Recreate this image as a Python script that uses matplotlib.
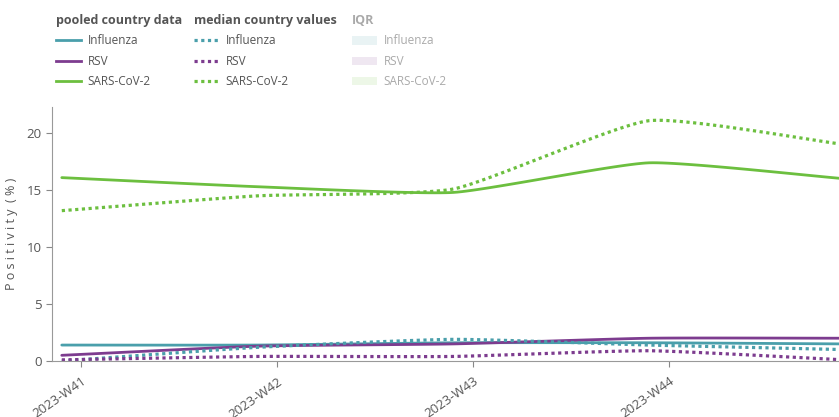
import numpy as np
import matplotlib
matplotlib.use("Agg")
import matplotlib.pyplot as plt
from matplotlib.lines import Line2D
from matplotlib.patches import Patch

# --- Data ---
weeks = ["2023-W41", "2023-W42", "2023-W43", "2023-W44", "2023-W45"]
pooled_influenza = [1.4, 1.4, 1.6, 1.6, 1.5]
pooled_rsv = [0.5, 1.3, 1.5, 2.0, 2.0]
pooled_sars = [16.1, 15.3, 14.8, 17.4, 16.0]
median_influenza = [0.0, 1.2, 1.9, 1.4, 1.0]
median_rsv = [0.1, 0.4, 0.4, 0.9, 0.1]
median_sars = [13.2, 14.5, 15.1, 21.1, 19.0]

C_FLU = "#4a9fab"
C_RSV = "#7d3c8f"
C_SARS = "#6cbf3f"
GREY = "#555555"

plt.rcParams['font.family'] = ['Open Sans', 'DejaVu Sans']


def smooth(xs, ys, n=30, k=0.5):
    # hermite spline with softened tangents (gentle rounding like plotly's spline)
    xs = np.asarray(xs, float)
    ys = np.asarray(ys, float)
    px = np.concatenate([[2 * xs[0] - xs[1]], xs, [2 * xs[-1] - xs[-2]]])
    py = np.concatenate([[2 * ys[0] - ys[1]], ys, [2 * ys[-1] - ys[-2]]])
    t = np.linspace(0, 1, n)
    h00 = 2 * t ** 3 - 3 * t ** 2 + 1
    h10 = t ** 3 - 2 * t ** 2 + t
    h01 = -2 * t ** 3 + 3 * t ** 2
    h11 = t ** 3 - t ** 2
    out_x, out_y = [], []
    for i in range(1, len(px) - 2):
        for arr, out in ((px, out_x), (py, out_y)):
            m1 = k * (arr[i + 1] - arr[i - 1]) / 2
            m2 = k * (arr[i + 2] - arr[i]) / 2
            out.extend(h00 * arr[i] + h10 * m1 + h01 * arr[i + 1] + h11 * m2)
    return np.array(out_x), np.array(out_y)


fig = plt.figure(figsize=(8.39, 4.17), dpi=100)
ax = fig.add_axes([52 / 839, 1 - 361 / 417, 1 - 52 / 839, (361 - 107) / 417])

ticks = np.arange(len(weeks))
xpos = ticks - 0.1  # points sit a bit left of the week ticks

series = [
    (pooled_influenza, C_FLU, '-'),
    (pooled_rsv, C_RSV, '-'),
    (pooled_sars, C_SARS, '-'),
    (median_influenza, C_FLU, ':'),
    (median_rsv, C_RSV, ':'),
    (median_sars, C_SARS, ':'),
]
for vals, col, ls in series:
    sx, sy = smooth(xpos, vals)
    if ls == '-':
        ax.plot(sx, sy, color=col, lw=2, solid_capstyle='round')
    else:
        ax.plot(sx, sy, color=col, lw=2.3, linestyle=(0, (1, 1.1)))

ax.set_xlim(-0.15, 3.87)
ax.set_ylim(0, 22.3)
ax.set_yticks([0, 5, 10, 15, 20])
ax.set_xticks(ticks[:4])
ax.set_xticklabels(weeks[:4], rotation=35, ha='right', rotation_mode='anchor')
ax.tick_params(axis='both', colors='#888888', labelcolor=GREY, labelsize=9.5, length=4)
ax.tick_params(axis='x', pad=6)
for s in ('top', 'right'):
    ax.spines[s].set_visible(False)
for s in ('left', 'bottom'):
    ax.spines[s].set_color('#999999')
ax.set_ylabel("P o s i t i v i t y  ( % )", color=GREY, fontsize=9, labelpad=6)

# --- Legends (three columns with titles) ---
names = ["Influenza", "RSV", "SARS-CoV-2"]
cols = [C_FLU, C_RSV, C_SARS]
groups = [
    ("pooled country data", [Line2D([], [], color=c, lw=2) for c in cols], 55, GREY),
    ("median country values", [Line2D([], [], color=c, lw=2.3, linestyle=(0, (1, 1.1))) for c in cols], 193, GREY),
    ("IQR", [Patch(facecolor=c, alpha=0.12, edgecolor='none') for c in cols], 351, "#aaaaaa"),
]
for title, handles, x0, tcol in groups:
    leg = fig.legend(handles, names, loc='upper left',
                     bbox_to_anchor=(x0 / 839, 1 - 13 / 417), frameon=False,
                     title=title, alignment='left', fontsize=8.5,
                     handlelength=2.1, handletextpad=0.55, labelspacing=0.62,
                     borderaxespad=0, borderpad=0.1)
    leg.get_title().set_fontweight('bold')
    leg.get_title().set_fontsize(9)
    leg.get_title().set_color(tcol)
    for t in leg.get_texts():
        t.set_color(tcol)

fig.savefig("out.png", dpi=100)
